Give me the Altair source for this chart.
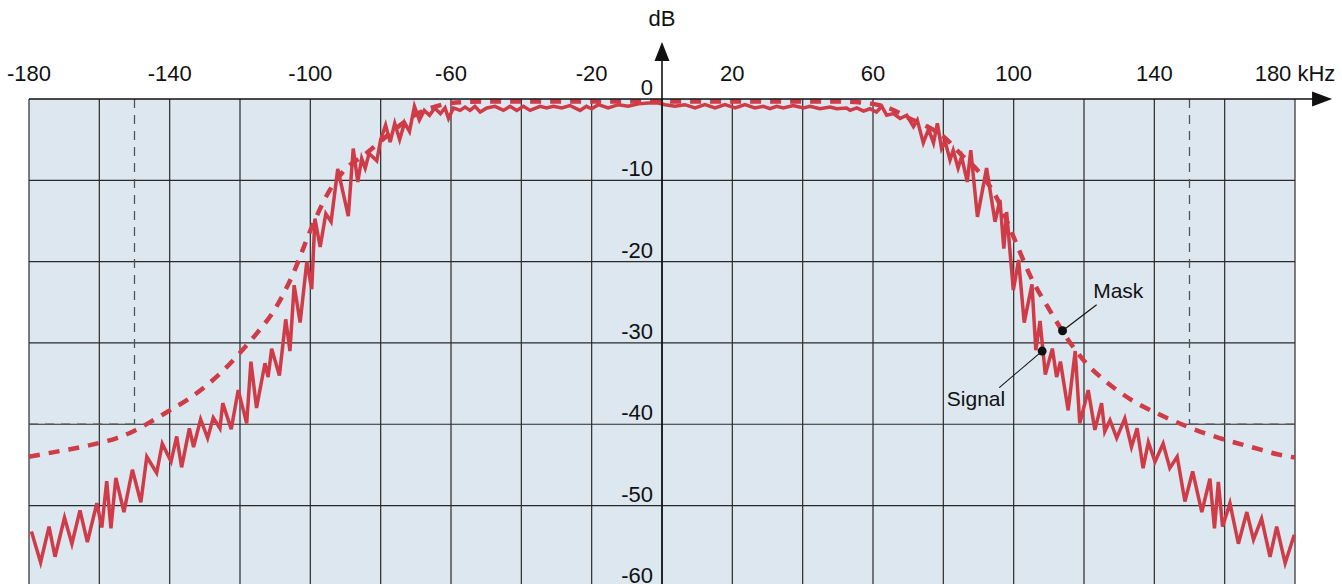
import altair as alt
import pandas as pd

# Measured spectrum of the channel (frequency offset in kHz, level in dB)
signal_khz = [
    -179.3, -176.7, -174.3, -172.6, -169.9, -167.8, -165.5, -163.4, -160.7, -159.3,
    -157.9, -156.7, -155.3, -153.0, -150.6, -148.2, -146.5, -143.7, -142.1, -139.6,
    -138.0, -136.6, -134.4, -133.2, -131.2, -129.2, -127.6, -125.7, -124.9, -122.5,
    -120.5, -118.1, -116.9, -115.3, -112.9, -112.0, -111.0, -108.8, -107.0, -105.8,
    -104.6, -102.9, -101.0, -99.6, -98.7, -97.2, -95.6, -94.1, -92.2, -89.2,
    -87.8, -86.5, -85.4, -84.4, -83.3, -81.1, -80.0, -78.6, -77.3, -76.0,
    -74.6, -73.2, -71.8, -70.4, -69.0, -67.6, -66.1, -64.6, -63.0, -61.7,
    -60.7, -59.3, -57.4, -56.0, -54.6, -53.2, -51.7, -49.8, -47.5, -45.1,
    -43.2, -41.3, -39.4, -37.5, -34.7, -32.8, -30.9, -28.5, -26.2, -23.3,
    -21.5, -20.0, -18.1, -15.3, -12.4, -9.6, -6.7, -3.9, -1.1, 0.9,
    3.7, 6.5, 9.4, 12.2, 15.1, 17.9, 20.8, 23.6, 26.4, 28.8,
    30.7, 32.6, 34.5, 37.3, 40.2, 42.1, 44.9, 47.8, 49.7, 52.5,
    53.5, 55.4, 57.3, 59.1, 61.0, 62.5, 63.9, 65.8, 67.7, 69.6,
    71.5, 72.6, 74.3, 75.8, 77.2, 78.3, 79.5, 80.5, 81.9, 82.8,
    84.2, 85.2, 86.8, 87.8, 89.7, 92.3, 94.7, 96.1, 97.2, 98.0,
    99.9, 101.4, 103.0, 105.2, 106.3, 107.5, 109.0, 111.0, 112.2, 113.3,
    115.5, 117.5, 118.8, 121.2, 123.1, 125.0, 125.9, 127.4, 129.3, 131.6,
    133.5, 135.1, 136.8, 138.3, 140.2, 142.5, 144.4, 146.5, 148.7, 150.9,
    153.5, 155.8, 157.1, 158.2, 159.4, 161.5, 163.9, 166.3, 168.2, 170.5,
    172.9, 174.8, 177.2, 179.8,
]
signal_db = [
    -53.2, -57.0, -52.6, -56.3, -51.5, -54.7, -50.6, -54.5, -49.7, -52.7,
    -47.0, -52.8, -46.6, -50.8, -45.6, -49.6, -44.0, -46.0, -42.4, -44.6,
    -41.5, -45.3, -40.5, -42.8, -39.4, -41.7, -39.2, -40.5, -37.4, -40.6,
    -35.8, -39.9, -32.3, -38.0, -32.5, -34.2, -30.7, -34.0, -27.1, -31.0,
    -22.9, -27.5, -20.0, -23.4, -14.7, -18.2, -14.1, -15.1, -8.6, -14.4,
    -6.1, -10.2, -7.3, -8.5, -6.7, -7.6, -5.0, -3.2, -5.3, -3.0,
    -5.0, -2.9, -4.0, -0.9, -2.6, -1.4, -2.0, -1.1, -1.8, -1.1,
    -2.4, -1.1, -1.4, -1.0, -1.4, -0.9, -1.6, -1.1, -0.9, -1.4,
    -0.9, -1.4, -0.9, -1.4, -0.9, -1.1, -0.9, -1.1, -0.8, -1.4,
    -0.9, -1.2, -0.7, -1.1, -0.7, -0.9, -0.6, -0.5, -0.5, -0.7,
    -0.9, -0.7, -1.1, -0.7, -1.1, -0.7, -1.1, -0.7, -1.1, -0.9,
    -1.2, -0.9, -1.1, -0.8, -1.1, -0.9, -1.2, -1.0, -1.2, -1.1,
    -1.4, -1.1, -1.5, -1.2, -1.6, -0.9, -2.0, -1.8, -2.4, -2.0,
    -3.4, -2.6, -5.4, -3.7, -5.4, -3.0, -6.1, -5.2, -7.5, -6.3,
    -8.5, -7.1, -10.2, -6.3, -14.5, -8.5, -15.1, -12.4, -18.4, -13.9,
    -23.5, -19.8, -27.5, -22.8, -30.9, -27.3, -33.9, -30.7, -34.2, -32.3,
    -38.3, -31.0, -39.9, -35.8, -40.7, -37.4, -40.9, -39.5, -41.7, -39.3,
    -42.8, -40.5, -45.4, -42.2, -44.6, -42.4, -45.4, -44.0, -49.5, -45.8,
    -50.8, -46.7, -52.8, -47.1, -52.6, -49.7, -54.7, -50.8, -54.2, -51.6,
    -56.3, -52.6, -57.1, -53.6,
]

# Spectrum emission mask
mask_khz = [
    -180, -175, -170, -165, -160, -155, -150, -145, -140, -135,
    -130, -125, -120, -115, -110, -105, -100, -95, -90, -85,
    -80, -75, -70, -65, -60, -50, 0, 50, 60, 65,
    70, 75, 80, 85, 90, 95, 100, 105, 110, 115,
    120, 125, 130, 135, 140, 145, 150, 155, 160, 165,
    170, 175, 180,
]
mask_db = [
    -44.0, -43.6, -43.2, -42.8, -42.3, -41.7, -40.8, -39.6, -38.3, -37.0,
    -35.4, -33.5, -31.2, -28.7, -25.8, -21.6, -16.2, -11.6, -8.6, -7.0,
    -5.2, -3.4, -1.9, -1.0, -0.5, -0.3, -0.3, -0.3, -0.6, -1.2,
    -2.3, -3.3, -4.6, -6.8, -8.9, -12.0, -17.0, -22.0, -25.8, -29.3,
    -32.2, -34.3, -36.0, -37.4, -38.5, -39.5, -40.4, -41.2, -41.9, -42.5,
    -43.1, -43.7, -44.1,
]

# Grid and tick labels
grid_khz = list(range(-180, 181, 20))
grid_db = [-10, -20, -30, -40, -50]
x_tick_khz = [-180, -140, -100, -60, -20, 20, 60, 100, 140, 180]
x_tick_text = ["-180", "-140", "-100", "-60", "-20", "20", "60", "100", "140", "180 kHz"]
y_tick_db = [0, -10, -20, -30, -40, -50, -60]
y_tick_text = ["0", "-10", "-20", "-30", "-40", "-50", "-60"]

# Limit lines of the mask at +/-150 kHz and -40 dB
limit_khz = [-150, 150]
limit_db = -40

# Callouts: (label, dot kHz, dot dB, leader end kHz, leader end dB, text kHz, text dB, align)
callouts = [
    ("Mask", 113.9, -28.5, 123.6, -25.3, 122.6, -24.5, "left"),
    ("Signal", 108.1, -31.0, 95.9, -35.5, 97.6, -37.8, "right"),
]

RED = "#cf3b47"
INK = "#111111"
FONT = "Liberation Sans"
FS_TICK = 22
FS_NOTE = 21

X_MIN, X_MAX = -180, 180
Y_MIN, Y_MAX = -59.65, 0

xs = alt.Scale(domain=[X_MIN, X_MAX], nice=False, zero=False)
ys = alt.Scale(domain=[Y_MIN, Y_MAX], nice=False, zero=False)


def X(field):
    return alt.X(field, type="quantitative", scale=xs, axis=None)


def Y(field):
    return alt.Y(field, type="quantitative", scale=ys, axis=None)


signal_df = pd.DataFrame({"k": signal_khz, "d": signal_db})
mask_df = pd.DataFrame({"k": mask_khz, "d": mask_db})

vgrid = alt.Chart(pd.DataFrame({"k": grid_khz})).mark_rule(
    color="#2a2a2a", strokeWidth=1.2
).encode(x=X("k"))

hgrid = alt.Chart(pd.DataFrame({"d": grid_db})).mark_rule(
    color="#2a2a2a", strokeWidth=1.2
).encode(y=Y("d"))

limit_v = alt.Chart(
    pd.DataFrame({"k": limit_khz, "d0": [0, 0], "d1": [limit_db, limit_db]})
).mark_rule(color="#555555", strokeWidth=1.3, strokeDash=[9, 7]).encode(
    x=X("k"), y=Y("d0"), y2="d1"
)

limit_h = alt.Chart(
    pd.DataFrame({"k0": [X_MIN, limit_khz[1]], "k1": [limit_khz[0], X_MAX],
                  "d": [limit_db, limit_db]})
).mark_rule(color="#555555", strokeWidth=1.3, strokeDash=[9, 7]).encode(
    x=X("k0"), x2="k1", y=Y("d")
)

mask_line = alt.Chart(mask_df).mark_line(
    color=RED, strokeWidth=4.5, strokeDash=[11, 9], interpolate="monotone"
).encode(x=X("k"), y=Y("d"))

signal_line = alt.Chart(signal_df).mark_line(
    color=RED, strokeWidth=3.5, strokeJoin="miter"
).encode(x=X("k"), y=Y("d"))

# Axis lines with arrow heads
x_axis = alt.Chart(pd.DataFrame({"k0": [X_MIN], "k1": [185.5], "d": [0]})).mark_rule(
    color=INK, strokeWidth=1.6
).encode(x=X("k0"), x2="k1", y=Y("d"))

y_axis = alt.Chart(pd.DataFrame({"k": [0], "d0": [4.8], "d1": [Y_MIN]})).mark_rule(
    color=INK, strokeWidth=1.6
).encode(x=X("k"), y=Y("d0"), y2="d1")

x_arrow = alt.Chart(pd.DataFrame({"k": [187.7], "d": [0]})).mark_point(
    shape="M-1,-0.75L1,0L-1,0.75Z", size=400, filled=True, color=INK, opacity=1
).encode(x=X("k"), y=Y("d"))

y_arrow = alt.Chart(pd.DataFrame({"k": [0], "d": [5.84]})).mark_point(
    shape="M0,-0.95L0.75,0.95L-0.75,0.95Z", size=400, filled=True, color=INK, opacity=1
).encode(x=X("k"), y=Y("d"))

x_labels = alt.Chart(
    pd.DataFrame({"k": x_tick_khz, "d": [2.2] * len(x_tick_khz), "t": x_tick_text,
                  "off": [0] * (len(x_tick_khz) - 1) + [-7]})
).mark_text(font=FONT, fontSize=FS_TICK, color=INK, baseline="alphabetic", align="center").encode(
    x=X("k"), y=Y("d"), text="t:N", xOffset=alt.XOffset("off:Q", scale=None)
)

y_labels = alt.Chart(pd.DataFrame({"d": y_tick_db, "t": y_tick_text})).mark_text(
    font=FONT, fontSize=FS_TICK, color=INK, baseline="alphabetic", align="right", dx=-9, dy=-4
).encode(x=alt.value(633), y=Y("d"), text="t:N")

db_label = alt.Chart(pd.DataFrame({"k": [0], "d": [8.98], "t": ["dB"]})).mark_text(
    font=FONT, fontSize=FS_TICK, color=INK, baseline="alphabetic", align="center"
).encode(x=X("k"), y=Y("d"), text="t:N")

call_df = pd.DataFrame(
    callouts, columns=["t", "k", "d", "k1", "d1", "tk", "td", "align"]
)

leaders = alt.Chart(call_df).mark_rule(color=INK, strokeWidth=1.1).encode(
    x=X("k"), y=Y("d"), x2="k1", y2="d1"
)

dots = alt.Chart(call_df).mark_point(
    shape="circle", size=80, filled=True, color=INK, opacity=1
).encode(x=X("k"), y=Y("d"))

mask_text = alt.Chart(call_df[call_df["align"] == "left"]).mark_text(
    font=FONT, fontSize=FS_NOTE, color=INK, baseline="alphabetic", align="left"
).encode(x=X("tk"), y=Y("td"), text="t:N")

signal_text = alt.Chart(call_df[call_df["align"] == "right"]).mark_text(
    font=FONT, fontSize=FS_NOTE, color=INK, baseline="alphabetic", align="right"
).encode(x=X("tk"), y=Y("td"), text="t:N")

chart = alt.layer(
    vgrid, hgrid, limit_v, limit_h, mask_line, signal_line,
    x_axis, y_axis, x_arrow, y_arrow,
    x_labels, y_labels, db_label,
    leaders, dots, mask_text, signal_text,
).properties(
    width=1266,
    height=485,
    padding={"left": 29, "top": 99, "right": 47, "bottom": 0},
    autosize="none",
    background="white",
).configure_view(fill="#dce7ef", strokeWidth=0)

chart.save("out.html", embed_options={"renderer": "svg", "actions": False})
